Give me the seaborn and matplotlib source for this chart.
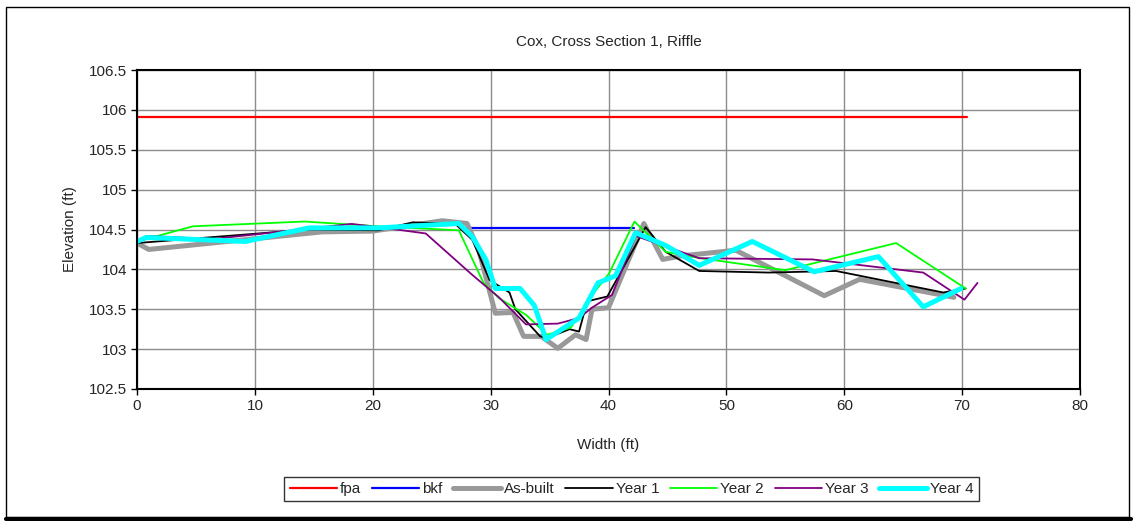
import matplotlib
matplotlib.use("Agg")
import matplotlib.pyplot as plt
import seaborn as sns
import pandas as pd
from matplotlib.patches import Rectangle
from matplotlib.lines import Line2D

# Cross-section survey data: station (ft) and elevation (ft)
fpa_x = [0.0, 70.4]
fpa_y = [105.91, 105.91]

bkf_x = [27.6, 42.2]
bkf_y = [104.52, 104.52]

asbuilt_x = [0.0, 1.0, 15.7, 20.0, 25.9, 28.0, 29.0, 30.4, 31.9, 32.8, 34.3, 35.7,
             37.2, 38.1, 38.6, 40.0, 43.0, 44.6, 46.25, 50.8, 58.3, 61.3, 69.3]
asbuilt_y = [104.33, 104.25, 104.47, 104.48, 104.61, 104.575, 104.24, 103.45, 103.46,
             103.16, 103.16, 103.01, 103.18, 103.12, 103.50, 103.52, 104.575, 104.125,
             104.17, 104.24, 103.67, 103.875, 103.65]

year1_x = [0.0, 14.6, 20.5, 23.4, 27.0, 28.45, 29.9, 30.4, 31.6, 32.1, 34.2, 34.8,
           36.7, 37.5, 38.2, 39.9, 43.15, 44.85, 47.7, 53.6, 59.3, 68.4, 70.3]
year1_y = [104.33, 104.50, 104.49, 104.59, 104.57, 104.37, 103.87, 103.82, 103.71,
           103.50, 103.16, 103.14, 103.25, 103.22, 103.60, 103.66, 104.53, 104.22,
           103.98, 103.96, 103.98, 103.71, 103.76]

year2_x = [0.0, 4.75, 14.2, 20.5, 27.3, 29.4, 30.7, 33.0, 34.8, 36.8, 37.8, 38.2,
           40.05, 42.2, 44.85, 47.8, 55.0, 64.4, 70.3]
year2_y = [104.35, 104.54, 104.60, 104.54, 104.49, 103.83, 103.64, 103.43, 103.18,
           103.27, 103.48, 103.60, 103.95, 104.60, 104.22, 104.14, 103.99, 104.33, 103.76]

year3_x = [0.0, 0.8, 6.4, 18.2, 20.5, 24.5, 28.45, 30.7, 33.0, 35.7, 37.5, 38.6,
           40.3, 42.3, 47.7, 57.3, 66.7, 70.2, 71.3]
year3_y = [104.33, 104.42, 104.38, 104.57, 104.53, 104.45, 103.93, 103.65, 103.31,
           103.32, 103.39, 103.52, 103.68, 104.42, 104.14, 104.125, 103.96, 103.62, 103.83]

year4_x = [0.0, 0.8, 9.2, 14.6, 20.5, 27.3, 28.45, 29.6, 30.4, 32.5, 33.7, 34.7,
           37.5, 38.2, 39.1, 40.6, 42.3, 44.85, 47.7, 52.2, 57.45, 62.9, 66.7, 69.9]
year4_y = [104.35, 104.40, 104.35, 104.52, 104.52, 104.575, 104.41, 104.12, 103.76,
           103.76, 103.55, 103.12, 103.39, 103.58, 103.83, 103.92, 104.46, 104.30,
           104.05, 104.35, 103.97, 104.16, 103.53, 103.76]

series = [
    ("fpa", fpa_x, fpa_y, "#ff0000", 1.6),
    ("bkf", bkf_x, bkf_y, "#0000ff", 1.6),
    ("As-built", asbuilt_x, asbuilt_y, "#999999", 3.6),
    ("Year 1", year1_x, year1_y, "#000000", 1.3),
    ("Year 2", year2_x, year2_y, "#00ff00", 1.3),
    ("Year 3", year3_x, year3_y, "#800080", 1.3),
    ("Year 4", year4_x, year4_y, "#00ffff", 3.6),
]

sns.set_style("white")
plt.rcParams["font.family"] = ["Liberation Sans", "DejaVu Sans"]

fig = plt.figure(figsize=(11.35, 5.21), dpi=100)
ax = fig.add_axes([137 / 1135, 1 - 389 / 521, (1080 - 137) / 1135, (389 - 70) / 521])

handles = []
for name, xs, ys, color, lw in series:
    df = pd.DataFrame({"Width (ft)": xs, "Elevation (ft)": ys})
    sns.lineplot(data=df, x="Width (ft)", y="Elevation (ft)", ax=ax, sort=False,
                 estimator=None, color=color, linewidth=lw)
    handles.append(Line2D([0], [0], color=color, linewidth=lw, label=name))

ax.set_xlim(0, 80)
ax.set_ylim(102.5, 106.5)
ax.set_xticks(range(0, 81, 10))
ax.set_yticks([102.5, 103, 103.5, 104, 104.5, 105, 105.5, 106, 106.5])
ax.set_yticklabels(["102.5", "103", "103.5", "104", "104.5", "105", "105.5", "106", "106.5"])
ax.grid(True, color="#8c8c8c", linewidth=1.0)
ax.set_axisbelow(True)
for sp in ax.spines.values():
    sp.set_color("black")
    sp.set_linewidth(1.5)
ax.tick_params(axis="both", which="major", direction="out", length=4, width=1,
               color="black", labelsize=11, pad=3, left=True, bottom=True)

ax.set_xlabel("Width (ft)", fontsize=11, labelpad=18)
ax.set_ylabel("Elevation (ft)", fontsize=11, labelpad=9)
ax.set_title("Cox, Cross Section 1, Riffle", fontsize=11, pad=17)

leg = fig.legend(handles=handles, loc="center", bbox_to_anchor=(631.5 / 1135, 1 - 489 / 521),
                 ncol=7, frameon=True, fancybox=False, edgecolor="black", fontsize=11,
                 handlelength=3.1, handletextpad=0.2, columnspacing=0.7,
                 borderpad=0.35, borderaxespad=0)
leg.get_frame().set_linewidth(1.0)

# Chart border with shadowed bottom edge
fig.patches.append(Rectangle((6 / 1135, 4 / 521), (1129 - 6) / 1135, (516 - 6) / 521,
                             transform=fig.transFigure, fill=False, edgecolor="black",
                             linewidth=1.0))
fig.lines.append(Line2D([6 / 1135, 1131 / 1135], [2 / 521, 2 / 521],
                        transform=fig.transFigure, color="black", linewidth=3))

fig.savefig("out.png", dpi=100)
